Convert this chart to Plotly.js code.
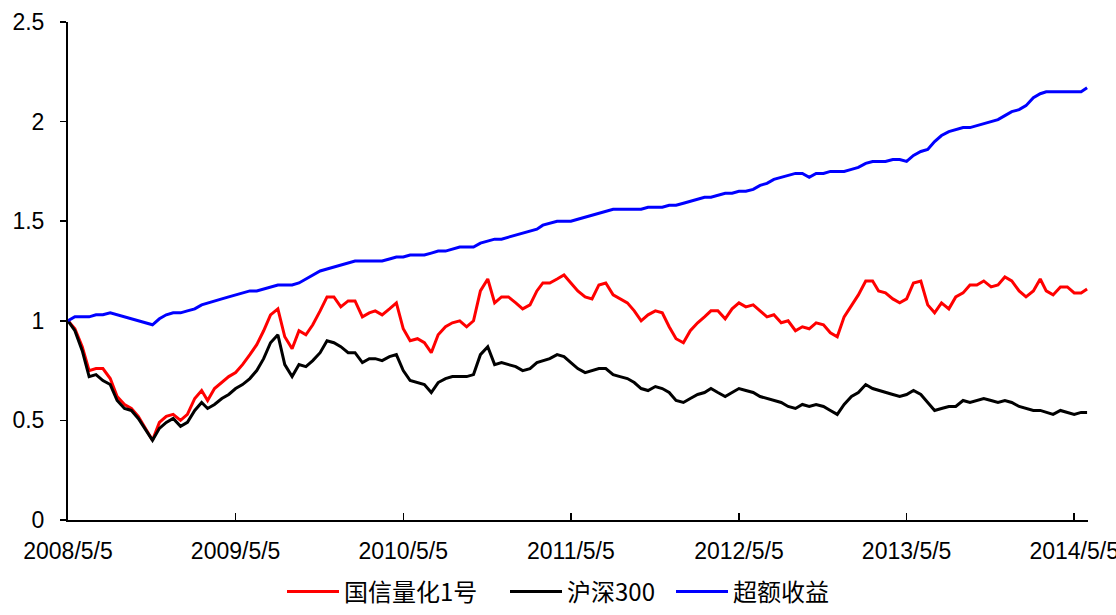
<!DOCTYPE html>
<html>
<head>
<meta charset="utf-8">
<script src="https://cdn.plot.ly/plotly-3.0.1.min.js"></script>
<style>html,body{margin:0;padding:0;background:#fff;}#chart{width:1116px;height:615px;}</style>
</head>
<body>
<div id="chart"></div>
<script>
const dates = [
"2008-05-05","2008-05-20","2008-06-05","2008-06-20","2008-07-05","2008-07-20","2008-08-05","2008-08-20","2008-09-05","2008-09-20","2008-10-05","2008-10-20","2008-11-05","2008-11-20","2008-12-05","2008-12-20","2009-01-05","2009-01-20","2009-02-05","2009-02-20","2009-03-05","2009-03-20","2009-04-05","2009-04-20",
"2009-05-05","2009-05-20","2009-06-05","2009-06-20","2009-07-05","2009-07-20","2009-08-05","2009-08-20","2009-09-05","2009-09-20","2009-10-05","2009-10-20","2009-11-05","2009-11-20","2009-12-05","2009-12-20","2010-01-05","2010-01-20","2010-02-05","2010-02-20","2010-03-05","2010-03-20","2010-04-05","2010-04-20",
"2010-05-05","2010-05-20","2010-06-05","2010-06-20","2010-07-05","2010-07-20","2010-08-05","2010-08-20","2010-09-05","2010-09-20","2010-10-05","2010-10-20","2010-11-05","2010-11-20","2010-12-05","2010-12-20","2011-01-05","2011-01-20","2011-02-05","2011-02-20","2011-03-05","2011-03-20","2011-04-05","2011-04-20",
"2011-05-05","2011-05-20","2011-06-05","2011-06-20","2011-07-05","2011-07-20","2011-08-05","2011-08-20","2011-09-05","2011-09-20","2011-10-05","2011-10-20","2011-11-05","2011-11-20","2011-12-05","2011-12-20","2012-01-05","2012-01-20","2012-02-05","2012-02-20","2012-03-05","2012-03-20","2012-04-05","2012-04-20",
"2012-05-05","2012-05-20","2012-06-05","2012-06-20","2012-07-05","2012-07-20","2012-08-05","2012-08-20","2012-09-05","2012-09-20","2012-10-05","2012-10-20","2012-11-05","2012-11-20","2012-12-05","2012-12-20","2013-01-05","2013-01-20","2013-02-05","2013-02-20","2013-03-05","2013-03-20","2013-04-05","2013-04-20",
"2013-05-05","2013-05-20","2013-06-05","2013-06-20","2013-07-05","2013-07-20","2013-08-05","2013-08-20","2013-09-05","2013-09-20","2013-10-05","2013-10-20","2013-11-05","2013-11-20","2013-12-05","2013-12-20","2014-01-05","2014-01-20","2014-02-05","2014-02-20","2014-03-05","2014-03-20","2014-04-05","2014-04-20",
"2014-05-05","2014-05-20","2014-06-02"
];

const guoxin = [
1.00,0.96,0.87,0.75,0.76,0.76,0.71,0.62,0.58,0.56,0.52,0.46,0.40,0.49,0.52,0.53,0.50,0.53,0.61,0.65,0.60,0.66,0.69,0.72,
0.74,0.78,0.83,0.88,0.95,1.03,1.06,0.92,0.86,0.95,0.93,0.98,1.05,1.12,1.12,1.07,1.10,1.10,1.02,1.04,1.05,1.03,1.06,1.09,
0.96,0.90,0.91,0.89,0.84,0.93,0.97,0.99,1.00,0.97,1.00,1.15,1.21,1.09,1.12,1.12,1.09,1.06,1.08,1.15,1.19,1.19,1.21,1.23,
1.19,1.15,1.12,1.11,1.18,1.19,1.13,1.11,1.09,1.05,1.00,1.03,1.05,1.04,0.97,0.91,0.89,0.95,0.99,1.02,1.05,1.05,1.01,1.06,
1.09,1.07,1.08,1.05,1.02,1.03,0.99,1.00,0.95,0.97,0.96,0.99,0.98,0.94,0.92,1.02,1.08,1.13,1.20,1.20,1.15,1.14,1.11,1.09,
1.11,1.19,1.20,1.08,1.04,1.09,1.06,1.12,1.14,1.18,1.18,1.20,1.17,1.18,1.22,1.20,1.15,1.12,1.15,1.21,1.15,1.13,1.17,1.17,
1.14,1.14,1.16
];

const hs300 = [
1.00,0.95,0.85,0.72,0.73,0.70,0.68,0.60,0.56,0.55,0.51,0.46,0.40,0.46,0.49,0.51,0.47,0.49,0.55,0.59,0.56,0.58,0.61,0.63,
0.66,0.68,0.71,0.75,0.81,0.89,0.93,0.78,0.72,0.78,0.77,0.80,0.84,0.90,0.89,0.87,0.84,0.84,0.79,0.81,0.81,0.80,0.82,0.83,
0.75,0.70,0.69,0.68,0.64,0.69,0.71,0.72,0.72,0.72,0.73,0.83,0.87,0.78,0.79,0.78,0.77,0.75,0.76,0.79,0.80,0.81,0.83,0.82,
0.79,0.76,0.74,0.75,0.76,0.76,0.73,0.72,0.71,0.69,0.66,0.65,0.67,0.66,0.64,0.60,0.59,0.61,0.63,0.64,0.66,0.64,0.62,0.64,
0.66,0.65,0.64,0.62,0.61,0.60,0.59,0.57,0.56,0.58,0.57,0.58,0.57,0.55,0.53,0.58,0.62,0.64,0.68,0.66,0.65,0.64,0.63,0.62,
0.63,0.65,0.63,0.59,0.55,0.56,0.57,0.57,0.60,0.59,0.60,0.61,0.60,0.59,0.60,0.59,0.57,0.56,0.55,0.55,0.54,0.53,0.55,0.54,
0.53,0.54,0.54
];

const excess = [
1.00,1.02,1.02,1.02,1.03,1.03,1.04,1.03,1.02,1.01,1.00,0.99,0.98,1.01,1.03,1.04,1.04,1.05,1.06,1.08,1.09,1.10,1.11,1.12,
1.13,1.14,1.15,1.15,1.16,1.17,1.18,1.18,1.18,1.19,1.21,1.23,1.25,1.26,1.27,1.28,1.29,1.30,1.30,1.30,1.30,1.30,1.31,1.32,
1.32,1.33,1.33,1.33,1.34,1.35,1.35,1.36,1.37,1.37,1.37,1.39,1.40,1.41,1.41,1.42,1.43,1.44,1.45,1.46,1.48,1.49,1.50,1.50,
1.50,1.51,1.52,1.53,1.54,1.55,1.56,1.56,1.56,1.56,1.56,1.57,1.57,1.57,1.58,1.58,1.59,1.60,1.61,1.62,1.62,1.63,1.64,1.64,
1.65,1.65,1.66,1.68,1.69,1.71,1.72,1.73,1.74,1.74,1.72,1.74,1.74,1.75,1.75,1.75,1.76,1.77,1.79,1.80,1.80,1.80,1.81,1.81,
1.80,1.83,1.85,1.86,1.90,1.93,1.95,1.96,1.97,1.97,1.98,1.99,2.00,2.01,2.03,2.05,2.06,2.08,2.12,2.14,2.15,2.15,2.15,2.15,
2.15,2.15,2.17
];

const seriesNames = ["国信量化1号", "沪深300", "超额收益"];
const tickDates = ["2008-05-05","2009-05-05","2010-05-05","2011-05-05","2012-05-05","2013-05-05","2014-05-05"];
const tickLabels = ["2008/5/5","2009/5/5","2010/5/5","2011/5/5","2012/5/5","2013/5/5","2014/5/5"];
const yTicks = [0, 0.5, 1, 1.5, 2, 2.5];
const yTickLabels = ["0", "0.5", "1", "1.5", "2", "2.5"];

const traces = [
  {x: dates, y: guoxin, name: seriesNames[0], type: "scatter", mode: "lines", line: {color: "#FF0000", width: 3}, legend: "legend"},
  {x: dates, y: hs300, name: seriesNames[1], type: "scatter", mode: "lines", line: {color: "#000000", width: 3}, legend: "legend2"},
  {x: dates, y: excess, name: seriesNames[2], type: "scatter", mode: "lines", line: {color: "#0000FF", width: 3}, legend: "legend3"}
];

const legFont = {family: "Noto Sans CJK SC, sans-serif", size: 24, color: "#000"};
function leg(xpx) {
  return {
    orientation: "h", xref: "container", yref: "container",
    x: xpx / 1116, xanchor: "left", y: 23 / 615, yanchor: "middle",
    font: legFont, itemwidth: 52, borderwidth: 0, bgcolor: "rgba(0,0,0,0)"
  };
}

const layout = {
  width: 1116, height: 615,
  margin: {l: 68, r: 28, t: 22, b: 95},
  paper_bgcolor: "#fff", plot_bgcolor: "#fff",
  font: {family: "Liberation Sans, Arial, sans-serif", size: 23, color: "#000"},
  showlegend: true,
  legend: leg(282),
  legend2: leg(505),
  legend3: leg(671),
  xaxis: {
    type: "date", range: ["2008-05-05", "2014-06-04"],
    tickmode: "array", tickvals: tickDates, ticktext: tickLabels,
    ticks: "inside", ticklen: 7, tickwidth: 1.5, tickcolor: "#000",
    showline: true, linecolor: "#000", linewidth: 2,
    showgrid: false, zeroline: false,
    ticklabeloverflow: "allow",
    tickfont: {family: "Liberation Sans, Arial, sans-serif", size: 23, color: "#000"},
    ticklabelstandoff: 9
  },
  yaxis: {
    range: [0, 2.5], tickmode: "array", tickvals: yTicks, ticktext: yTickLabels,
    ticks: "outside", ticklen: 6, tickwidth: 1.5, tickcolor: "#000",
    showline: true, linecolor: "#000", linewidth: 2,
    showgrid: false, zeroline: false,
    tickfont: {family: "Liberation Sans, Arial, sans-serif", size: 23, color: "#000"},
    ticklabelstandoff: 11
  }
};

Plotly.newPlot("chart", traces, layout, {displayModeBar: false, staticPlot: true});
</script>
</body>
</html>
